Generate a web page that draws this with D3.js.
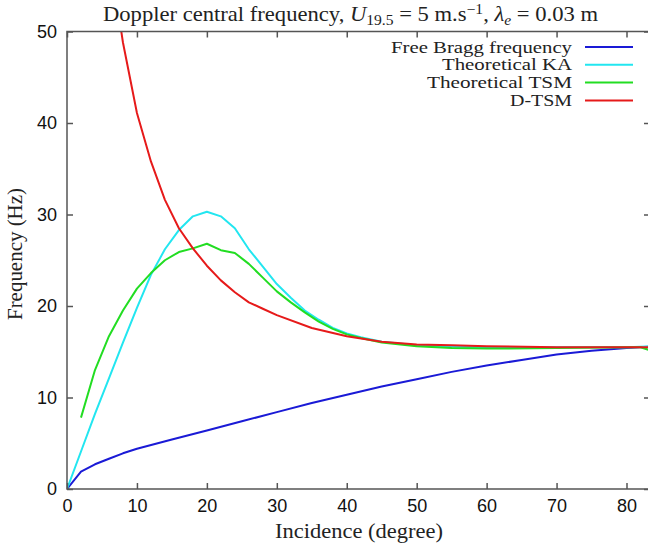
<!DOCTYPE html>
<html><head><meta charset="utf-8">
<script src="https://cdn.jsdelivr.net/npm/d3@7"></script>
<style>body{margin:0;background:#fff;overflow:hidden} .serif{font-family:'Liberation Serif','DejaVu Serif',serif}</style>
</head><body>
<script>
// ---- data ----
const xTicks = [0,10,20,30,40,50,60,70,80];
const yTicks = [0,10,20,30,40,50];
const seriesNames = ["Free Bragg frequency","Theoretical KA","Theoretical TSM","D-TSM"];
const seriesColors = ["#1a1ad6","#22e6f0","#22dd22","#e61a1a"];

const braggX = [0,2,4,6,8,10,15,20,25,30,35,40,45,50,55,60,65,70,75,80,84];
const braggY = [0,1.9,2.7,3.3,3.9,4.4,5.4,6.4,7.4,8.4,9.4,10.3,11.2,12.0,12.8,13.5,14.1,14.7,15.1,15.4,15.6];

const kaX = [0,2,4,6,8,10,12,14,16,18,20,22,24,26,28,30,32,34,36,38,40,42,45,50,55,60,70,80,84];
const kaY = [0,4.1,8.2,12.1,16.0,19.8,23.4,26.2,28.3,29.8,30.3,29.8,28.5,26.2,24.3,22.4,20.9,19.5,18.5,17.6,17.0,16.6,16.1,15.7,15.55,15.5,15.5,15.5,15.6];

const tsmX = [2,4,6,8,10,12,14,16,18,20,22,24,26,28,30,32,34,36,38,40,42,45,50,55,60,70,80,82,84];
const tsmY = [7.8,13.0,16.7,19.5,21.9,23.6,25.0,25.9,26.3,26.8,26.1,25.8,24.6,23.1,21.6,20.4,19.3,18.3,17.5,16.9,16.5,16.0,15.6,15.4,15.35,15.4,15.5,15.5,15.0];

const dtsmX = [6,8,10,12,14,16,18,20,22,24,26,28,30,35,40,45,50,55,60,70,80,84];
const dtsmY = [59,48.8,41.1,35.8,31.6,28.5,26.3,24.4,22.8,21.5,20.4,19.7,19.0,17.6,16.7,16.1,15.8,15.7,15.6,15.5,15.5,15.5];

// ---- layout ----
const W = 648, H = 548;
const L = 67, T = 31.5, B = 489, R = 650;
const x = d3.scaleLinear().domain([0, 80]).range([L, 626.5]);
const y = d3.scaleLinear().domain([0, 50]).range([B, T]);

const svg = d3.select("body").append("svg").attr("width", W).attr("height", H);
svg.append("defs").append("clipPath").attr("id","clip")
  .append("rect").attr("x", L).attr("y", T).attr("width", R - L).attr("height", B - T);

const frameColor = "#555";
const sans = "'Liberation Sans', Arial, sans-serif";
const serif = "'Liberation Serif', 'DejaVu Serif', serif";

// curves
const series = [[braggX,braggY],[kaX,kaY],[tsmX,tsmY],[dtsmX,dtsmY]];
const line = d3.line().x(d => x(d[0])).y(d => y(d[1]));
const g = svg.append("g").attr("clip-path","url(#clip)");
series.forEach((s,i) => {
  const pts = s[0].map((v,j) => [v, s[1][j]]);
  g.append("path").datum(pts).attr("d", line)
    .attr("fill","none").attr("stroke", seriesColors[i]).attr("stroke-width", 2)
    .attr("stroke-linejoin","round");
});

// axes with inward ticks (mirrored)
const tickLen = 6;
const axB = d3.axisBottom(x).tickValues(xTicks).tickSize(-tickLen).tickPadding(10).tickFormat(d3.format("d"));
const axT = d3.axisTop(x).tickValues(xTicks).tickSize(-tickLen).tickFormat("");
const axL = d3.axisLeft(y).tickValues(yTicks).tickSize(-tickLen).tickPadding(10).tickFormat(d3.format("d"));
const axR = d3.axisRight(y).tickValues(yTicks).tickSize(-tickLen).tickFormat("");

function style(sel){
  sel.select(".domain").remove();
  sel.selectAll(".tick line").attr("stroke", frameColor).attr("stroke-width", 1.5);
  sel.selectAll(".tick text").attr("fill","#111").style("font-family", sans).style("font-size","18px");
}
svg.append("g").attr("transform",`translate(0,${B})`).call(axB).call(style);
svg.append("g").attr("transform",`translate(0,${T})`).call(axT).call(style);
svg.append("g").attr("transform",`translate(${L},0)`).call(axL).call(style);
svg.append("g").attr("transform",`translate(${R},0)`).call(axR).call(style);

svg.append("rect").attr("x", L).attr("y", T).attr("width", R - L).attr("height", B - T)
  .attr("fill","none").attr("stroke", frameColor).attr("stroke-width", 1.5);

// legend
const legendWidths = [181, 130, 145, 62];
const lg = svg.append("g");
seriesNames.forEach((n,i) => {
  const yy = 47 + i * 17.8;
  lg.append("text").attr("class","serif").attr("x", 572).attr("y", yy).attr("dy","0.35em").attr("text-anchor","end")
    .attr("textLength", legendWidths[i]).attr("lengthAdjust","spacingAndGlyphs")
    .style("font-size","16px").attr("fill","#222").text(n);
  lg.append("line").attr("x1", 585).attr("x2", 633).attr("y1", yy).attr("y2", yy)
    .attr("stroke", seriesColors[i]).attr("stroke-width", 2);
});

// title
const t = svg.append("text").attr("class","serif").attr("x", 350.5).attr("y", 21).attr("text-anchor","middle")
  .attr("textLength", 495).attr("lengthAdjust","spacingAndGlyphs")
  .style("font-size","21px").attr("fill","#222");
t.append("tspan").text("Doppler central frequency, ");
t.append("tspan").style("font-style","italic").text("U");
t.append("tspan").attr("dy", 4).style("font-size","14.5px").text("19.5");
t.append("tspan").attr("dy", -4).text(" = 5 m.s");
t.append("tspan").attr("dy", -7).style("font-size","14.5px").text("−1");
t.append("tspan").attr("dy", 7).text(", ");
t.append("tspan").style("font-style","italic").text("λ");
t.append("tspan").attr("dy", 4).style("font-size","14.5px").style("font-style","italic").text("e");
t.append("tspan").attr("dy", -4).text(" = 0.03 m");

// axis titles
svg.append("text").attr("class","serif").attr("x", 359).attr("y", 538).attr("text-anchor","middle")
  .attr("textLength", 168).attr("lengthAdjust","spacingAndGlyphs")
  .style("font-size","22px").attr("fill","#222").text("Incidence (degree)");
svg.append("text").attr("class","serif").attr("transform","translate(22,254) rotate(-90)").attr("text-anchor","middle")
  .attr("textLength", 132).attr("lengthAdjust","spacingAndGlyphs")
  .style("font-size","21px").attr("fill","#222").text("Frequency (Hz)");
</script>
</body></html>
